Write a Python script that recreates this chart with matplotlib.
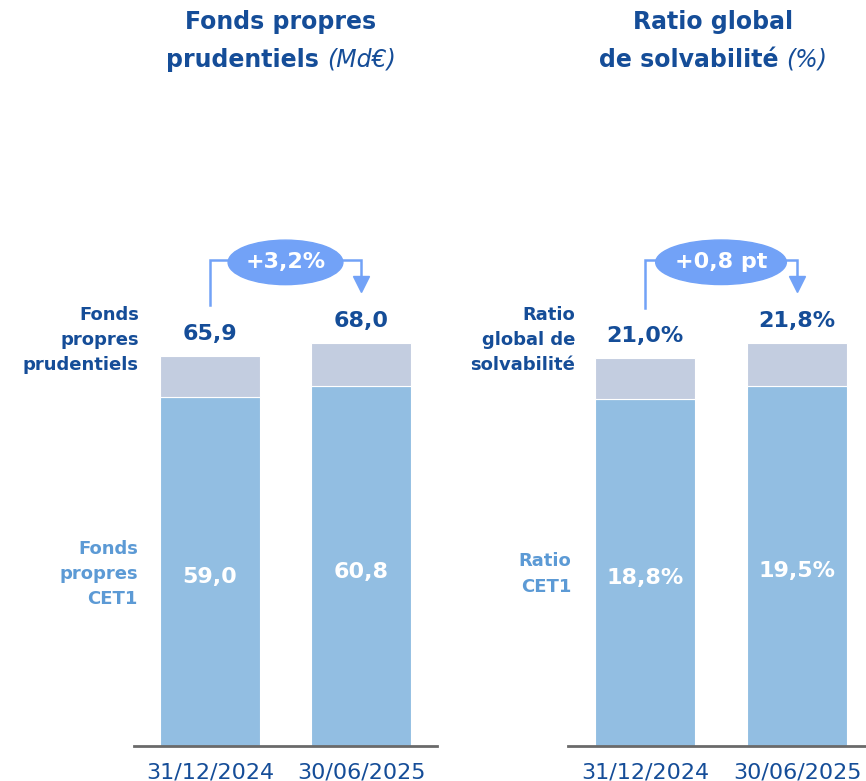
import matplotlib
matplotlib.use('Agg')
import matplotlib.pyplot as plt
from matplotlib.patches import Ellipse

# data
dates = ["31/12/2024", "30/06/2025"]
fonds_total = [65.9, 68.0]
fonds_cet1 = [59.0, 60.8]
ratio_total = [21.0, 21.8]
ratio_cet1 = [18.8, 19.5]
fonds_var = "+3,2%"
ratio_var = "+0,8 pt"

dark = '#154D98'
light_txt = '#5C9AD5'
c_cet1 = '#92BEE2'
c_top = '#C3CDE0'
c_arrow = '#72A2F7'

W, H = 866, 781
fig = plt.figure(figsize=(W/100, H/100), dpi=100)
plt.rcParams['font.family'] = 'DejaVu Sans'


def fx(px):
    return px / W


def fy(py):
    return 1 - py / H


def fmt(v, pct=False):
    s = f"{v:.1f}".replace('.', ',')
    return s + ('%' if pct else '')


def panel(left_px, right_px, xmin, xmax, ymax, total, cet1, pct, var, ell_w):
    ax = fig.add_axes([fx(left_px), fy(746), fx(right_px - left_px), (746 - 240) / H])
    x = [0, 1]
    extra = [t - c for t, c in zip(total, cet1)]
    ax.bar(x, cet1, width=0.66, color=c_cet1, edgecolor='white', linewidth=0.8)
    ax.bar(x, extra, bottom=cet1, width=0.66, color=c_top, edgecolor='white', linewidth=0.8)
    ax.set_xlim(xmin, xmax)
    ax.set_ylim(0, ymax)
    for s in ['top', 'left', 'right']:
        ax.spines[s].set_visible(False)
    ax.spines['bottom'].set_color('#6a6a6a')
    ax.spines['bottom'].set_linewidth(2)
    ax.set_yticks([])
    ax.set_xticks(x)
    ax.set_xticklabels(dates, fontsize=16, color=dark)
    ax.tick_params(axis='x', length=0, pad=12)
    for i in x:
        ax.annotate(fmt(total[i], pct), (i, total[i]), xytext=(0, 16), textcoords='offset points',
                    ha='center', va='center', fontsize=16, fontweight='bold', color=dark)
        ax.annotate(fmt(cet1[i], pct), (i, cet1[i] / 2), xytext=(0, -4), textcoords='offset points',
                    ha='center', va='center', fontsize=16, fontweight='bold', color='white')
    # variation bracket
    top = max(total) * 1.207
    ax.plot([0, 0, 1, 1], [total[0] * 1.13, top, top, total[1] * 1.17], color=c_arrow,
            lw=1.8, clip_on=False, solid_joinstyle='miter')
    ax.plot([1], [total[1] * 1.148], marker='v', ms=11, color=c_arrow, clip_on=False)
    ax.add_patch(Ellipse((0.5, top - ymax * 0.0045), ell_w, ymax * 0.088, color=c_arrow,
                         clip_on=False, zorder=3))
    ax.text(0.5, top - ymax * 0.0045, var, ha='center', va='center', fontsize=16,
            fontweight='bold', color='white', zorder=4)
    return ax


panel(134, 437, -0.503, 1.503, 506 / 5.92, fonds_total, fonds_cet1, False, fonds_var, 0.76)
panel(568, 866, -0.507, 1.454, 506 / 18.47, ratio_total, ratio_cet1, True, ratio_var, 0.86)

# side labels
side = dict(ha='right', va='center', fontsize=13, fontweight='bold', linespacing=1.5)
fig.text(fx(139), fy(340), "Fonds\npropres\nprudentiels", color=dark, **side)
fig.text(fx(138), fy(574), "Fonds\npropres\nCET1", color=light_txt, **side)
fig.text(fx(575), fy(340), "Ratio\nglobal de\nsolvabilité", color=dark, **side)
fig.text(fx(571), fy(574), "Ratio\nCET1", color=light_txt, **side)

# titles with a bold part and an italic part
renderer = fig.canvas.get_renderer()


def title(cx, line1, bold2, ital2):
    fig.text(fx(cx), fy(22), line1, ha='center', va='center', fontsize=17,
             fontweight='bold', color=dark)
    t1 = fig.text(0, fy(60), bold2 + " ", ha='left', va='center', fontsize=17,
                  fontweight='bold', color=dark)
    t2 = fig.text(0, fy(60), ital2, ha='left', va='center', fontsize=17,
                  style='italic', color=dark)
    w1 = t1.get_window_extent(renderer).width
    w2 = t2.get_window_extent(renderer).width
    start = cx - (w1 + w2) / 2
    t1.set_x(fx(start))
    t2.set_x(fx(start + w1))


title(281, "Fonds propres", "prudentiels", "(Md€)")
title(713, "Ratio global", "de solvabilité", "(%)")

fig.savefig('out.png', dpi=100)
